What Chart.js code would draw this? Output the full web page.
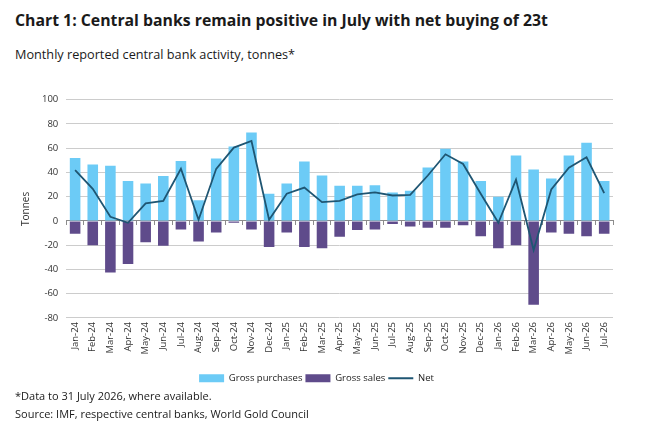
<!DOCTYPE html>
<html>
<head>
<meta charset="utf-8">
<script src="https://cdn.jsdelivr.net/npm/chart.js@4/dist/chart.umd.min.js"></script>
<style>
  body { margin: 0; width: 646px; height: 434px; background: #fff; font-family: "Open Sans", sans-serif; color: #1a1a1a; position: relative; overflow: hidden; }
  #title { position: absolute; left: 15px; top: 9px; font-size: 15.8px; font-weight: bold; white-space: nowrap; }
  #subtitle { position: absolute; left: 15px; top: 45px; font-size: 12.7px; white-space: nowrap; }
  #wrap { position: absolute; left: 0; top: 86px; width: 646px; height: 307px; }
  .note { position: absolute; left: 15px; font-size: 11px; white-space: nowrap; }
</style>
</head>
<body>
<div id="title">Chart 1: Central banks remain positive in July with net buying of 23t</div>
<div id="subtitle">Monthly reported central bank activity, tonnes*</div>
<div id="wrap"><canvas id="chart"></canvas></div>
<div class="note" style="top:388px">*Data to 31 July 2026, where available.</div>
<div class="note" style="top:406px">Source: IMF, respective central banks, World Gold Council</div>
<script>
//-------------------- SETUP BLOCK-------------------
const months = ['Jan-24', 'Feb-24', 'Mar-24', 'Apr-24', 'May-24', 'Jun-24', 'Jul-24', 'Aug-24',
    'Sep-24', 'Oct-24', 'Nov-24', 'Dec-24', 'Jan-25', 'Feb-25', 'Mar-25', 'Apr-25', 'May-25',
    'Jun-25', 'Jul-25', 'Aug-25', 'Sep-25', 'Oct-25', 'Nov-25', 'Dec-25', 'Jan-26', 'Feb-26',
    'Mar-26', 'Apr-26', 'May-26', 'Jun-26', 'Jul-26'];

const grossPurchases = [52, 46.5, 45.5, 33, 31, 37, 49.5, 17, 51.5, 61.5, 73, 22.5, 31, 49, 37.5,
    29, 29, 29.5, 23.5, 25, 44, 59.5, 49, 33, 20, 54, 42.5, 35, 54, 64.5, 33];

const grossSales = [-10.5, -20, -42.5, -35.5, -17.5, -20.5, -7, -17, -9.5, -1.5, -7, -21.5, -9.5,
    -21.5, -22.5, -13, -7.5, -7, -2.5, -4.5, -5.5, -5.5, -3.5, -12.5, -22.5, -20, -69, -9.5,
    -10.5, -12.5, -10.5];

const net = [42, 26.5, 3.5, -1.5, 14.5, 16.5, 43, 1, 43, 60.5, 66, 1, 22.5, 27.5, 15.5,
    16.5, 22, 23.5, 21, 21.5, 37.5, 55, 47, 22.5, -1.5, 34, -24, 26, 44, 52.5, 23];

const yTicks = [100, 80, 60, 40, 20, 0, -20, -40, -60, -80];

const tickFont = { family: 'Open Sans', size: 9.5 };

//------------------- CONFIG BLOCK----------------------
const config = {
    type: 'bar',
    data: {
        labels: months,
        datasets: [{
            label: 'Gross purchases',
            data: grossPurchases,
            backgroundColor: '#6ccbf6',
            pointStyle: 'rect',
            barPercentage: 0.6,
            categoryPercentage: 1,
            order: 2
        }, {
            label: 'Gross sales',
            data: grossSales,
            backgroundColor: '#5f4b8b',
            pointStyle: 'rect',
            barPercentage: 0.6,
            categoryPercentage: 1,
            order: 3
        }, {
            type: 'line',
            label: 'Net',
            data: net,
            borderColor: '#1f5673',
            backgroundColor: '#1f5673',
            borderWidth: 1.8,
            pointRadius: 0,
            pointStyle: 'line',
            tension: 0,
            order: 1
        }]
    },
    options: {
        responsive: true,
        maintainAspectRatio: false,
        animation: false,
        layout: { padding: { top: 9, right: 33, left: 20, bottom: 0 } },
        plugins: {
            legend: {
                position: 'bottom',
                labels: {
                    usePointStyle: true,
                    pointStyleWidth: 25,
                    boxHeight: 8,
                    padding: 3,
                    color: '#1a1a1a',
                    font: { family: 'Open Sans', size: 9.5 },
                    sort: (a, b) => a.datasetIndex - b.datasetIndex
                }
            },
            tooltip: { enabled: false }
        },
        scales: {
            x: {
                stacked: true,
                grid: { display: false, drawTicks: false },
                border: { display: false },
                afterFit: axis => { axis.height += 12; },
                ticks: {
                    color: '#333',
                    font: tickFont,
                    maxRotation: 90,
                    minRotation: 90,
                    autoSkip: false,
                    padding: 4
                }
            },
            zero: {
                type: 'category',
                axis: 'x',
                labels: months,
                position: { y: 0 },
                offset: true,
                grid: { drawOnChartArea: false, tickLength: 4, color: '#8c8c8c', offset: true },
                border: { color: '#8c8c8c', width: 1 },
                ticks: { display: false }
            },
            y: {
                min: -80,
                max: 100,
                afterBuildTicks: axis => { axis.ticks = yTicks.map(v => ({ value: v })); },
                title: {
                    display: true,
                    text: 'Tonnes',
                    color: '#333',
                    font: { family: 'Open Sans', size: 10 },
                    padding: { top: 0, bottom: 2 }
                },
                grid: { color: '#cccccc', drawTicks: false, lineWidth: 1 },
                border: { display: false },
                ticks: { color: '#333', font: tickFont, padding: 8 }
            }
        }
    }
};

//-------------------RENDER BLOCK----------------------
const myChart = new Chart(document.getElementById('chart'), config);
</script>
</body>
</html>
